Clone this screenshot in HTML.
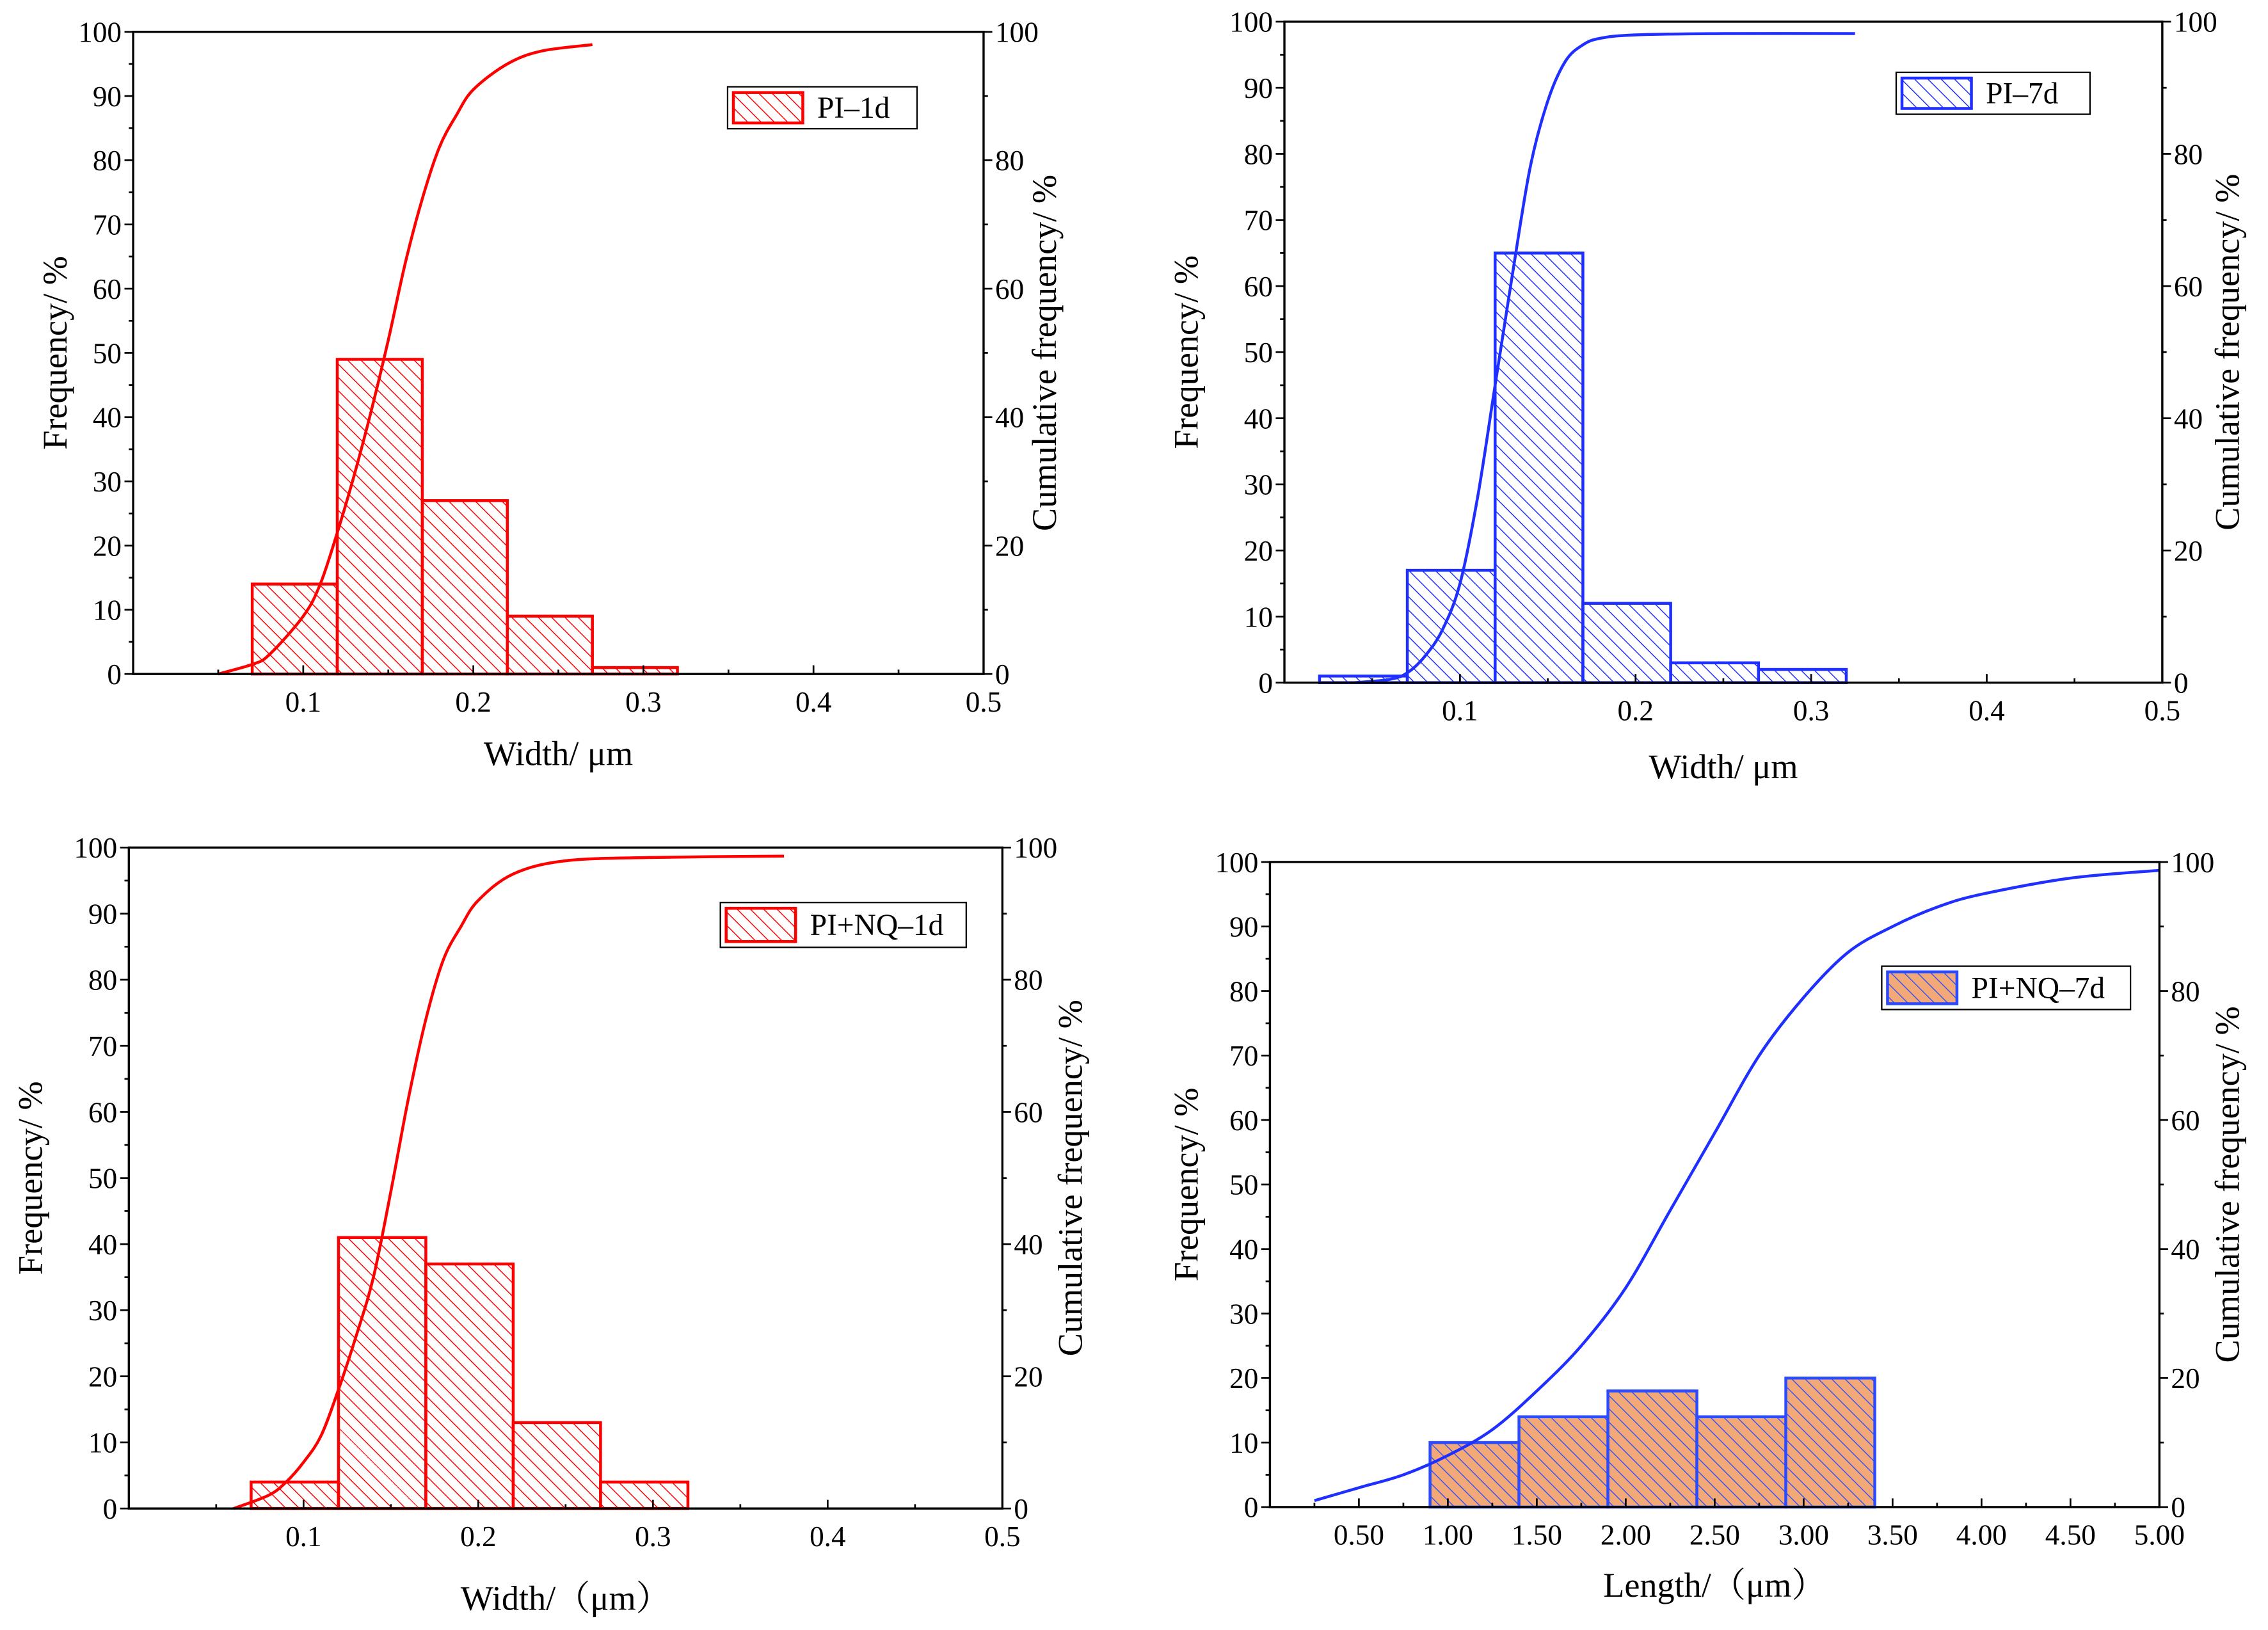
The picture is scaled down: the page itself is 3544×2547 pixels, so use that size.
<!DOCTYPE html>
<html><head><meta charset="utf-8">
<style>
html,body{margin:0;padding:0;background:#fff;}
svg{display:block;}
text{font-family:"Liberation Serif","Noto Serif CJK SC",serif;fill:#000;}
</style></head>
<body>
<svg id="fig" width="3544" height="2547" viewBox="0 0 1568 1127" xmlns="http://www.w3.org/2000/svg">
<defs>
<pattern id="hatch-red" patternUnits="userSpaceOnUse" width="6.5" height="6.5" patternTransform="rotate(-45)"><line x1="0" y1="0" x2="0" y2="6.5" stroke="#ff0000" stroke-width="1.3"/></pattern>
<pattern id="hatch-blue" patternUnits="userSpaceOnUse" width="6.5" height="6.5" patternTransform="rotate(-45)"><line x1="0" y1="0" x2="0" y2="6.5" stroke="#1f2fff" stroke-width="1.3"/></pattern>
<pattern id="hatch-orange" patternUnits="userSpaceOnUse" width="6.5" height="6.5" patternTransform="rotate(-45)"><rect width="6.5" height="6.5" fill="#f2a877"/><line x1="0" y1="0" x2="0" y2="6.5" stroke="#2b4bff" stroke-width="1.2"/></pattern>
</defs>
</svg>
<script>
// ---- Panel 1: PI-1d ----
const p1Edges = [0.07,0.12,0.17,0.22,0.27,0.32];
const p1Freq = [14,49,27,9,1];
const p1CumX = [0.05,0.07,0.08,0.1,0.11,0.12,0.13,0.14,0.15,0.16,0.17,0.18,0.19,0.2,0.22,0.24,0.27];
const p1CumY = [0,1.5,3,9,14,22,31,41,52,64,74,82,87,91,95,97,98];
const p1XTicks = ["0.1","0.2","0.3","0.4","0.5"];
// ---- Panel 2: PI-7d ----
const p2Edges = [0.02,0.07,0.12,0.17,0.22,0.27,0.32];
const p2Freq = [1,17,65,12,3,2];
const p2CumX = [0.04,0.06,0.07,0.08,0.09,0.1,0.11,0.12,0.13,0.14,0.15,0.16,0.17,0.18,0.2,0.25,0.325];
const p2CumY = [0,0.5,1.5,4,8,15,28,45,62,78,88,94,96.5,97.5,98,98.2,98.2];
const p2XTicks = ["0.1","0.2","0.3","0.4","0.5"];
// ---- Panel 3: PI+NQ-1d ----
const p3Edges = [0.07,0.12,0.17,0.22,0.27,0.32];
const p3Freq = [4,41,37,13,4];
const p3CumX = [0.06,0.08,0.09,0.1,0.11,0.12,0.13,0.14,0.15,0.16,0.17,0.18,0.19,0.2,0.22,0.25,0.3,0.375];
const p3CumY = [0,2,4,7,11,18,26,35,48,62,74,83,88,92,96,98,98.5,98.7];
const p3XTicks = ["0.1","0.2","0.3","0.4","0.5"];
// ---- Panel 4: PI+NQ-7d ----
const p4Edges = [0.9,1.4,1.9,2.4,2.9,3.4];
const p4Freq = [10,14,18,14,20];
const p4CumX = [0.25,0.5,0.75,1,1.25,1.5,1.75,2,2.25,2.5,2.75,3,3.25,3.5,3.75,4,4.5,5];
const p4CumY = [1,3,5,8,12,18,25,34,46,58,70,79,86,90,93,95,97.5,98.7];
const p4XTicks = ["0.50","1.00","1.50","2.00","2.50","3.00","3.50","4.00","4.50","5.00"];
const yTicks = ["0","10","20","30","40","50","60","70","80","90","100"];
const y2Ticks = ["0","20","40","60","80","100"];

const NS="http://www.w3.org/2000/svg";
const svg=document.getElementById('fig');
function mk(tag,attrs,parent){const e=document.createElementNS(NS,tag);for(const k in attrs)e.setAttribute(k,attrs[k]);(parent||svg).appendChild(e);return e;}

function smoothPath(pts){
  let d='M'+pts[0][0].toFixed(2)+','+pts[0][1].toFixed(2);
  for(let i=0;i<pts.length-1;i++){
    const p0=pts[Math.max(0,i-1)],p1=pts[i],p2=pts[i+1],p3=pts[Math.min(pts.length-1,i+2)];
    const c1x=p1[0]+(p2[0]-p0[0])/6,c1y=p1[1]+(p2[1]-p0[1])/6;
    const c2x=p2[0]-(p3[0]-p1[0])/6,c2y=p2[1]-(p3[1]-p1[1])/6;
    d+='C'+c1x.toFixed(2)+','+c1y.toFixed(2)+' '+c2x.toFixed(2)+','+c2y.toFixed(2)+' '+p2[0].toFixed(2)+','+p2[1].toFixed(2);
  }
  return d;
}

function panel(cfg){
  const g=mk('g',{});
  
  
  const L=cfg.L,R=cfg.R,T=cfg.T,B=cfg.B;
  const sx=v=>L+(v-cfg.xmin)/(cfg.xmax-cfg.xmin)*(R-L);
  const sy=v=>B-v/100*(B-T);
  for(let i=0;i<cfg.freq.length;i++){
    const r=mk('rect',{x:sx(cfg.edges[i]),y:sy(cfg.freq[i]),width:sx(cfg.edges[i+1])-sx(cfg.edges[i]),height:B-sy(cfg.freq[i]),fill:'url(#'+cfg.fill+')',stroke:cfg.barStroke,'stroke-width':2},g);
    
    
  }
  const pts=cfg.cx.map((x,i)=>[sx(x),sy(cfg.cy[i])]);
  const c=mk('path',{d:smoothPath(pts),fill:'none',stroke:cfg.lineColor,'stroke-width':2,'stroke-linejoin':'round'},g);
  
  
  const f=mk('rect',{x:L,y:T,width:R-L,height:B-T,fill:'none',stroke:'#000','stroke-width':1.5},g);
  
  
  for(let i=0;i<=20;i++){
    const v=i*5,y=sy(v),maj=i%2==0;
    mk('line',{x1:L,x2:L-(maj?6:3),y1:y,y2:y,stroke:'#000','stroke-width':1.2},g);
    if(maj){const t=mk('text',{x:L-8,y:y+7,'text-anchor':'end','font-size':20},g);t.textContent=yTicks[i/2];
      
      }
  }
  for(let i=0;i<=10;i++){
    const v=i*10,y=sy(v),maj=i%2==0;
    mk('line',{x1:R,x2:R+(maj?6:3),y1:y,y2:y,stroke:'#000','stroke-width':1.2},g);
    if(maj){const t=mk('text',{x:R+8,y:y+7,'font-size':20},g);t.textContent=y2Ticks[i/2];
      
      }
  }
  const step=cfg.xstep;
  const n=Math.round((cfg.xmax-cfg.xmin)/(step/2));
  for(let i=1;i<=n;i++){
    const v=cfg.xmin+i*step/2,x=sx(v),maj=i%2==0;
    mk('line',{x1:x,x2:x,y1:B,y2:B-(maj?6:3),stroke:'#000','stroke-width':1.2},g);
    if(maj){const t=mk('text',{x:x,y:B+26,'text-anchor':'middle','font-size':20},g);t.textContent=cfg.xt[i/2-1];
      
      }
  }
  const yt=mk('text',{x:0,y:0,'text-anchor':'middle','font-size':24,transform:'translate('+cfg.ytx+','+(T+B)/2+') rotate(-90)'},g);
  yt.textContent='Frequency/ %';
  
  
  const y2=mk('text',{x:0,y:0,'text-anchor':'middle','font-size':24,transform:'translate('+cfg.y2tx+','+(T+B)/2+') rotate(-90)'},g);
  y2.textContent='Cumulative frequency/ %';
  
  
  const xt=mk('text',{x:(L+R)/2,y:cfg.xty,'text-anchor':'middle','font-size':24},g);
  xt.textContent=cfg.xtitle;
  
  
  const lg=mk('g',{},g);
  
  
  const lb=cfg.leg;
  mk('rect',{x:lb[0],y:lb[1],width:lb[2],height:lb[3],fill:'#fff',stroke:'#000','stroke-width':1},lg);
  mk('rect',{x:lb[0]+4,y:lb[1]+4,width:48,height:lb[3]-8,fill:'url(#'+cfg.fill+')',stroke:cfg.barStroke,'stroke-width':2},lg);
  const lt=mk('text',{x:lb[0]+62,y:lb[1]+lb[3]/2+7,'font-size':21},lg);
  lt.textContent=cfg.label;
  
  
}

panel({name:'chart-pi-1d',L:92,R:680,T:22,B:466,xmin:0,xmax:0.5,xstep:0.1,edges:p1Edges,freq:p1Freq,cx:p1CumX,cy:p1CumY,xt:p1XTicks,
  fill:'hatch-red',barStroke:'#ff0000',lineColor:'#ff0000',ytx:46,y2tx:730,xty:529,xtitle:'Width/ μm',leg:[503,60,131,29],label:'PI‒1d'});
panel({name:'chart-pi-7d',L:888,R:1495,T:15,B:472,xmin:0,xmax:0.5,xstep:0.1,edges:p2Edges,freq:p2Freq,cx:p2CumX,cy:p2CumY,xt:p2XTicks,
  fill:'hatch-blue',barStroke:'#1f2fff',lineColor:'#1f2fff',ytx:828,y2tx:1548,xty:538,xtitle:'Width/ μm',leg:[1311,50,134,29],label:'PI‒7d'});
panel({name:'chart-pi-nq-1d',L:89,R:693,T:586,B:1043,xmin:0,xmax:0.5,xstep:0.1,edges:p3Edges,freq:p3Freq,cx:p3CumX,cy:p3CumY,xt:p3XTicks,
  fill:'hatch-red',barStroke:'#ff0000',lineColor:'#ff0000',ytx:29,y2tx:748,xty:1113,xtitle:'Width/（μm）',leg:[498,624,170,31],label:'PI+NQ‒1d'});
panel({name:'chart-pi-nq-7d',L:878,R:1493,T:596,B:1042,xmin:0,xmax:5,xstep:0.5,edges:p4Edges,freq:p4Freq,cx:p4CumX,cy:p4CumY,xt:p4XTicks,
  fill:'hatch-orange',barStroke:'#2b4bff',lineColor:'#1f2fff',ytx:828,y2tx:1548,xty:1104,xtitle:'Length/（μm）',leg:[1301,668,172,30],label:'PI+NQ‒7d'});
</script>
</body></html>
